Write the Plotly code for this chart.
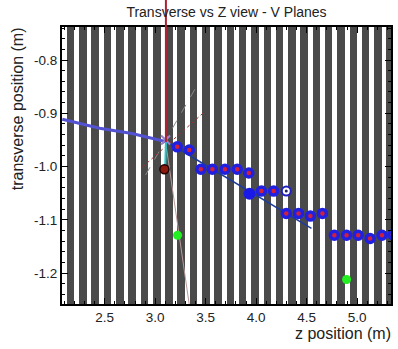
import plotly.graph_objects as go

# wire-plane (stripe) z positions [m]
plane_z = [2.163, 2.285, 2.406, 2.528, 2.650, 2.772, 2.893, 3.015, 3.137,
           3.258, 3.380, 3.502, 3.623, 3.745, 3.866, 3.988, 4.110, 4.231,
           4.353, 4.474, 4.596, 4.718, 4.840, 4.962, 5.083, 5.205, 5.327]

# hits (blue ring, red centre)
hit_z = [3.218, 3.337, 3.452, 3.566, 3.691, 3.812, 3.927, 4.052, 4.173,
         4.298, 4.419, 4.537, 4.656, 4.774, 4.895, 5.010, 5.128, 5.246, 5.354]
hit_t = [-0.963, -0.969, -1.005, -1.005, -1.005, -1.005, -1.012, -1.046, -1.046,
         -1.088, -1.088, -1.093, -1.088, -1.129, -1.129, -1.129, -1.135, -1.129, -1.128]

# special points
open_z, open_t = [4.298], [-1.046]
big_z, big_t = [3.934], [-1.051]
vtx_z, vtx_t = [3.091], [-1.005]
green_z = [3.221, 4.895]
green_t = [-1.129, -1.212]

# incoming track (thick) and fitted track (thin)
trk_in_z = [2.08, 2.45, 2.77, 3.10]
trk_in_t = [-0.911, -0.928, -0.938, -0.953]
trk_fit_z = [3.10, 4.547]
trk_fit_t = [-0.952, -1.116]

lineA_z, lineA_t = [2.904, 3.435], [-1.016, -0.841]
lineB_z, lineB_t = [2.874, 3.484], [-1.001, -0.898]
lineC_z, lineC_t = [3.100, 3.337], [-0.950, -1.259]
cyan_z, cyan_t = [3.107, 3.100], [-0.947, -0.997]
vertex_z, vertex_t = [3.103], [-0.950]
red_vline_z = 3.106

x_range = [2.077, 5.335]
y_range = [-1.258, -0.738]

FONT = 'Arial, Liberation Sans, sans-serif'

fig = go.Figure()

fig.add_trace(go.Bar(x=plane_z, y=[1.0] * len(plane_z), base=[-1.5] * len(plane_z),
                     width=0.075, marker=dict(color='#4a4a4a', line=dict(width=0)),
                     hoverinfo='skip', showlegend=False))

fig.add_trace(go.Scatter(x=lineC_z, y=lineC_t, mode='lines',
                         line=dict(color='#b89a9a', width=1), showlegend=False))
fig.add_trace(go.Scatter(x=lineA_z, y=lineA_t, mode='lines',
                         line=dict(color='#8a8a8a', width=1, dash='dash'), showlegend=False))
fig.add_trace(go.Scatter(x=lineB_z, y=lineB_t, mode='lines',
                         line=dict(color='#a03030', width=1, dash='dot'), showlegend=False))
fig.add_trace(go.Scatter(x=trk_in_z, y=trk_in_t, mode='lines',
                         line=dict(color='#5252d2', width=3), showlegend=False))
fig.add_trace(go.Scatter(x=trk_fit_z, y=trk_fit_t, mode='lines',
                         line=dict(color='#1c3c9c', width=1.5), showlegend=False))
fig.add_trace(go.Scatter(x=cyan_z, y=cyan_t, mode='lines',
                         line=dict(color='#20c8c8', width=2), showlegend=False))
fig.add_trace(go.Scatter(x=vertex_z, y=vertex_t, mode='markers',
                         marker=dict(symbol='x-thin', size=9, line=dict(color='#9a80c8', width=2)),
                         showlegend=False))

fig.add_trace(go.Scatter(x=hit_z, y=hit_t, mode='markers',
                         marker=dict(size=8, color='#d0203a', line=dict(color='#2020e0', width=3.5)),
                         showlegend=False))
fig.add_trace(go.Scatter(x=open_z, y=open_t, mode='markers',
                         marker=dict(size=9, color='white', line=dict(color='#2020c0', width=2)),
                         showlegend=False))
fig.add_trace(go.Scatter(x=open_z, y=open_t, mode='markers',
                         marker=dict(size=3, color='#202060'), showlegend=False))
fig.add_trace(go.Scatter(x=big_z, y=big_t, mode='markers',
                         marker=dict(size=12, color='#1a1ae8'), showlegend=False))
fig.add_trace(go.Scatter(x=vtx_z, y=vtx_t, mode='markers',
                         marker=dict(size=9, color='#8a1a10', line=dict(color='#200000', width=1.5)),
                         showlegend=False))
fig.add_trace(go.Scatter(x=green_z, y=green_t, mode='markers',
                         marker=dict(size=9, color='#22ee22'), showlegend=False))

fig.add_shape(type='line', xref='x', yref='paper', x0=red_vline_z, x1=red_vline_z,
              y0=0.585, y1=1.1, line=dict(color='#b02030', width=2))

axis_common = dict(showgrid=False, zeroline=False, showline=True, linecolor='black',
                   linewidth=2, mirror='ticks', ticks='inside', tickcolor='black',
                   tickfont=dict(family=FONT, size=13.5, color='#222'))

fig.update_layout(
    width=398, height=349,
    margin=dict(l=62, r=5, t=27, b=45),
    plot_bgcolor='white', paper_bgcolor='white',
    bargap=0, showlegend=False,
    title=dict(text='Transverse vs Z view - V Planes', x=0.5, xref='paper', xanchor='center',
               y=1 - 12 / 349, yanchor='middle',
               font=dict(family=FONT, size=14, color='#222')),
    xaxis=dict(range=x_range, tickvals=[2.5, 3.0, 3.5, 4.0, 4.5, 5.0],
               ticktext=['2.5', '3.0', '3.5', '4.0', '4.5', '5.0'], ticklen=6,
               minor=dict(dtick=0.1, ticklen=3, ticks='inside', tickcolor='black'),
               **axis_common),
    yaxis=dict(range=y_range, tickvals=[-0.8, -0.9, -1.0, -1.1, -1.2],
               ticktext=['-0.8', '-0.9', '-1.0', '-1.1', '-1.2'], ticklen=6,
               minor=dict(dtick=0.02, ticklen=3, ticks='inside', tickcolor='black'),
               **axis_common),
    annotations=[
        dict(text='z position (m)', xref='paper', yref='paper', x=1, y=-0.105,
             xanchor='right', yanchor='middle', xshift=2, showarrow=False,
             font=dict(family=FONT, size=16, color='#222')),
        dict(text='transverse position (m)', xref='paper', yref='paper', x=-0.133, y=0.704,
             xanchor='center', yanchor='middle', textangle=-90, showarrow=False,
             font=dict(family=FONT, size=16, color='#222')),
    ],
)

fig.write_html('out.html', config={'displayModeBar': False},
               post_script="document.body.style.margin='0px'; document.body.style.overflow='hidden';")
